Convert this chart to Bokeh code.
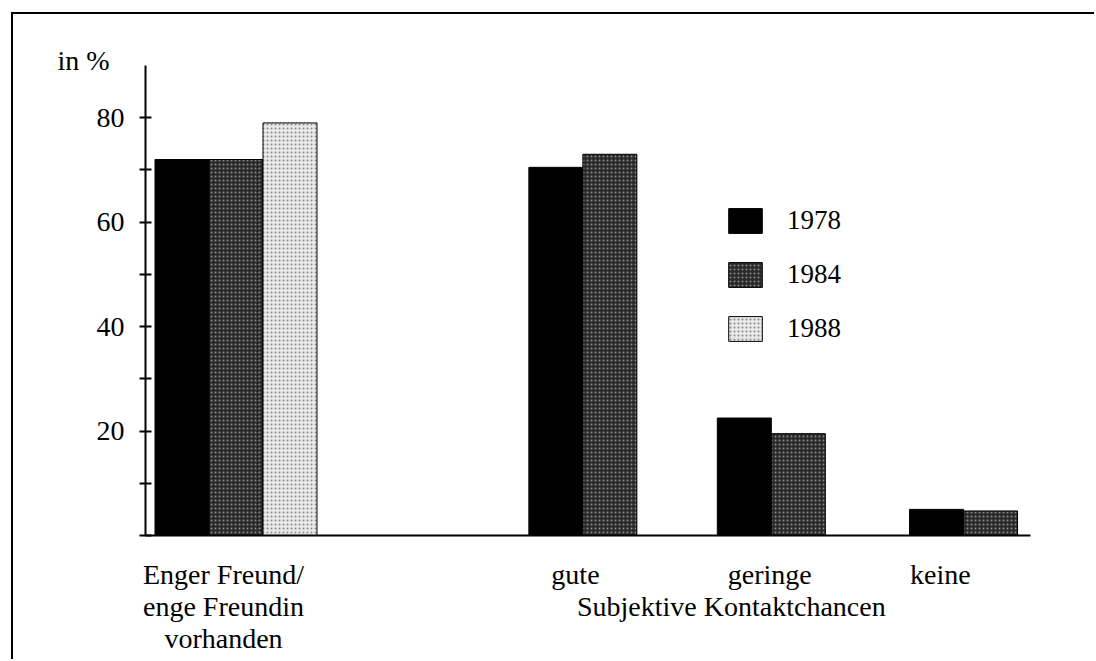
from bokeh.plotting import figure
from bokeh.models import (Range1d, FixedTicker, ColumnDataSource, Legend, LegendItem,
                          LinearAxis, Title)
from bokeh.embed import file_html
from bokeh.resources import INLINE

# ---- data ----
categories = ["Enger Freund/\nenge Freundin\nvorhanden", "gute", "geringe", "keine"]
years = ["1978", "1984", "1988"]
v1978 = [72, 70.5, 22.5, 5]
v1984 = [72, 73, 19.5, 4.7]
v1988 = [79, None, None, None]
y_ticks = [0, 10, 20, 30, 40, 50, 60, 70, 80]
y_labelled = [20, 40, 60, 80]
y_title = "in %"
x_title = "Subjektive Kontaktchancen"

# ---- layout (positions in bar-width units) ----
group_centers = [1.676, 8.10, 11.59, 15.15]
label_pos = [1.444, 7.963, 11.56, 14.72]
x_title_pos = 10.85
bar_w = 1.0
FONT = "Liberation Serif"

series = [v1978, v1984, v1988]
styles_ = [
    dict(fill_color="#000000"),
    dict(fill_color="#2a2a2a", hatch_pattern="dot", hatch_color="#8a8a8a", hatch_scale=4, hatch_weight=1),
    dict(fill_color="#e8e8e8", hatch_pattern="dot", hatch_color="#8a8a8a", hatch_scale=4, hatch_weight=1),
]

p = figure(width=1083, height=647, output_backend="svg", toolbar_location=None,
           x_range=Range1d(0, 16.39), y_range=Range1d(0, 90),
           min_border_left=132, min_border_top=51, min_border_bottom=126, min_border_right=66)
p.styles = {"border-top": "2px solid black", "border-left": "2px solid black",
            "margin-left": "11px", "margin-top": "12px"}
p.grid.visible = False
p.outline_line_color = None
p.background_fill_color = "white"
p.border_fill_color = "white"

items = []
for si, (yr, vals) in enumerate(zip(years, series)):
    xs, tops = [], []
    for gi, c in enumerate(group_centers):
        present = [s for s in range(len(series)) if series[s][gi] is not None]
        if vals[gi] is None:
            continue
        n = len(present)
        k = present.index(si)
        xs.append(c + (k - (n - 1) / 2) * bar_w)
        tops.append(vals[gi])
    src = ColumnDataSource(dict(x=xs, top=tops))
    r = p.vbar(x="x", top="top", width=bar_w, bottom=0, source=src,
               line_color="black", line_width=1, **styles_[si])
    items.append(LegendItem(label=yr, renderers=[r]))

legend = Legend(items=items, location=(579, 191), glyph_width=42, glyph_height=31,
                spacing=23, label_standoff=21, padding=0, margin=0,
                border_line_color=None, background_fill_alpha=0,
                label_text_font=FONT, label_text_font_size="27px", label_text_color="black")
p.add_layout(legend, "center")

# y axis
ya = p.yaxis[0]
ya.ticker = FixedTicker(ticks=y_ticks)
ya.major_label_overrides = {t: (str(t) if t in y_labelled else "") for t in y_ticks}
ya.axis_line_width = 2
ya.axis_line_color = "black"
ya.major_tick_in = 6
ya.major_tick_out = 6
ya.major_tick_line_width = 2
ya.minor_tick_line_color = None
ya.major_label_text_font = FONT
ya.major_label_text_font_size = "28px"
ya.major_label_text_color = "black"
ya.major_label_standoff = 15

# x axis rows: line k of every category label (plus the axis title on row 2)
rows = []
for pos, cat in zip(label_pos, categories):
    for k, line in enumerate(cat.split("\n")):
        while len(rows) <= k:
            rows.append({})
        rows[k][pos] = line
rows[1][x_title_pos] = x_title

xa = p.xaxis[0]
for k, row in enumerate(rows):
    ax = xa if k == 0 else LinearAxis()
    if k > 0:
        p.add_layout(ax, "below")
    ax.ticker = FixedTicker(ticks=sorted(row))
    ax.major_label_overrides = row
    ax.axis_line_width = 2
    ax.axis_line_color = "black" if k == 0 else None
    ax.major_tick_in = 0
    ax.major_tick_out = 0
    ax.minor_tick_line_color = None
    ax.major_label_text_font = FONT
    ax.major_label_text_font_size = "28px"
    ax.major_label_text_color = "black"
    ax.major_label_standoff = 23 if k == 0 else -2

p.add_layout(Title(text=y_title, align="left", offset=-88, standoff=-20,
                   text_font=FONT, text_font_size="28px", text_font_style="normal",
                   text_color="black"), "above")

open("out.html", "w").write(file_html(p, INLINE))
